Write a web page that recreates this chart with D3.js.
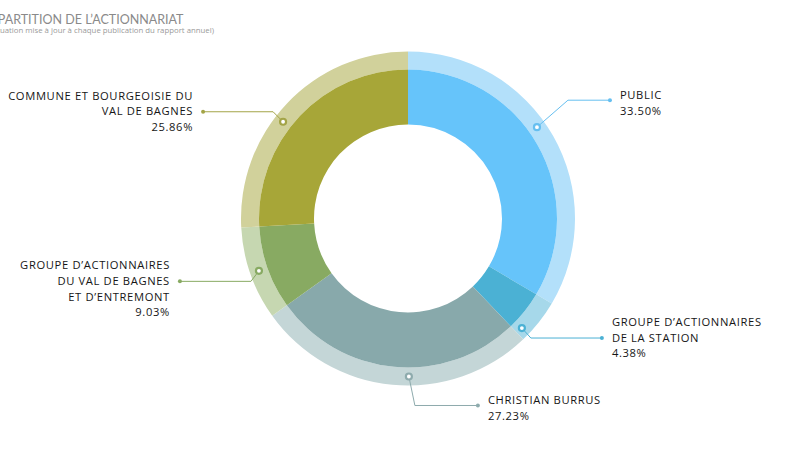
<!DOCTYPE html>
<html>
<head>
<meta charset="utf-8">
<script src="https://cdn.jsdelivr.net/npm/d3@7"></script>
<style>
  body { margin: 0; background: #fff; }
  svg { display: block; font-family: "Open Sans", sans-serif; }
</style>
</head>
<body>
<div id="chart"></div>
<script>
// shareholders, clockwise from 12 o'clock
var names = [
	[ "PUBLIC" ],
	[ "GROUPE D’ACTIONNAIRES", "DE LA STATION" ],
	[ "CHRISTIAN BURRUS" ],
	[ "GROUPE D’ACTIONNAIRES", "DU VAL DE BAGNES", "ET D’ENTREMONT" ],
	[ "COMMUNE ET BOURGEOISIE DU", "VAL DE BAGNES" ]
];
var shares = [ 33.50, 4.38, 27.23, 9.03, 25.86 ];
var innerColors = [ "#66c4fa", "#4bb1d4", "#88a9ab", "#88aa62", "#a7a638" ];
var outerColors = [ "#b3e0fa", "#a6d8ea", "#c4d6d7", "#c6d7b1", "#d1d19b" ];
var lineColors = [ "#66bff0", "#4bb1d4", "#8eabad", "#88aa62", "#a3a447" ];

var titleText = "R\u00C9PARTITION DE L\u2019ACTIONNARIAT";
var noteText = "(Situation mise \u00E0 jour \u00E0 chaque publication du rapport annuel)";

var width = 810, height = 456;
var cx = 408, cy = 218.5;
var rHole = 94, rMid = 149, rOuter = 167;

// label placement: angle nudge (deg), elbow offset, horizontal run, text side
var layout = [
	{ nudge: -5.6, dx: 31, dy: -27, run: 42, side: 1, first: -1 },
	{ nudge: 5.4, dx: 9, dy: 10, run: 71, side: 1, first: -12 },
	{ nudge: -5.7, dx: 6, dy: 29, run: 63, side: 1, first: -1 },
	{ nudge: 0, dx: -8, dy: 10.5, run: 71, side: -1, first: -12 },
	{ nudge: -5.7, dx: -10, dy: -10, run: 70, side: -1, first: -12 }
];

var svg = d3.select( "#chart" ).append( "svg" )
	.attr( "width", width )
	.attr( "height", height )
	.attr( "viewBox", [ 0, 0, width, height ] );

// title and note run off the left edge like the source, so anchor them on their end
svg.append( "text" )
	.attr( "x", 183.5 )
	.attr( "y", 23.5 )
	.attr( "text-anchor", "end" )
	.attr( "fill", "#8a8a8a" )
	.style( "font-family", "Lato" )
	.style( "font-size", "12.5px" )
	.text( titleText );

svg.append( "text" )
	.attr( "x", 214 )
	.attr( "y", 33 )
	.attr( "text-anchor", "end" )
	.attr( "fill", "#9a9a9a" )
	.style( "font-size", "7.8px" )
	.text( noteText );

var pie = d3.pie().sort( null ).value( d => d );
var arcs = pie( shares );

var g = svg.append( "g" ).attr( "transform", `translate(${cx},${cy})` );

var innerArc = d3.arc().innerRadius( rHole ).outerRadius( rMid );
var outerArc = d3.arc().innerRadius( rMid ).outerRadius( rOuter );

g.selectAll( "path.outer" )
	.data( arcs )
	.join( "path" )
	.attr( "class", "outer" )
	.attr( "d", outerArc )
	.attr( "fill", ( d, i ) => outerColors[i] );

g.selectAll( "path.inner" )
	.data( arcs )
	.join( "path" )
	.attr( "class", "inner" )
	.attr( "d", innerArc )
	.attr( "fill", ( d, i ) => innerColors[i] );

var rDot = ( rMid + rOuter ) / 2;

arcs.forEach( function ( d, i ) {
	var L = layout[i];
	var a = ( d.startAngle + d.endAngle ) / 2 + L.nudge * Math.PI / 180;
	var px = cx + rDot * Math.sin( a ), py = cy - rDot * Math.cos( a );
	var ex = px + L.dx, ey = py + L.dy;
	var endX = ex + L.side * L.run;
	var col = lineColors[i];

	svg.append( "polyline" )
		.attr( "points", [ [ px, py ], [ ex, ey ], [ endX, ey ] ].join( " " ) )
		.attr( "fill", "none" )
		.attr( "stroke", col )
		.attr( "stroke-width", 1 );
	svg.append( "circle" )
		.attr( "cx", endX ).attr( "cy", ey ).attr( "r", 2 )
		.attr( "fill", col );
	svg.append( "circle" )
		.attr( "cx", px ).attr( "cy", py ).attr( "r", 3 )
		.attr( "fill", "#fff" )
		.attr( "stroke", col )
		.attr( "stroke-width", 2.2 );

	var lines = names[i].concat( d3.format( ".2f" )( shares[i] ) + "%" );
	var tx = endX + L.side * 10;
	svg.append( "text" )
		.attr( "text-anchor", L.side > 0 ? "start" : "end" )
		.attr( "fill", "#161616" )
		.style( "font-size", "11.2px" )
		.style( "letter-spacing", "0.65px" )
		.selectAll( "tspan" )
		.data( lines )
		.join( "tspan" )
		.attr( "x", tx )
		.attr( "y", ( t, j ) => ey + L.first + j * 15.6 )
		.text( t => t );
} );
</script>
</body>
</html>
